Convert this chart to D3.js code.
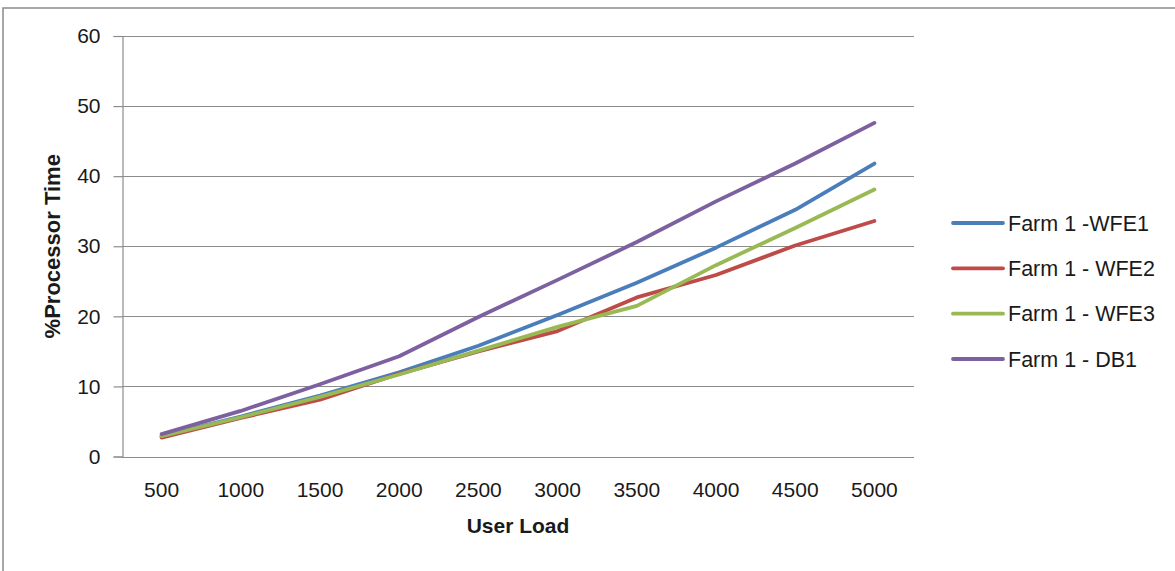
<!DOCTYPE html>
<html>
<head>
<meta charset="utf-8">
<script src="https://cdn.jsdelivr.net/npm/d3@7"></script>
<style>
  html, body { margin: 0; padding: 0; background: #fff; }
  svg { display: block; }
  text { font-family: "Liberation Sans", "Open Sans", sans-serif; fill: #1a1a1a; }
</style>
</head>
<body>
<svg id="chart" width="1175" height="571"></svg>
<script>
const categories = ["500", "1000", "1500", "2000", "2500", "3000", "3500", "4000", "4500", "5000"];
const seriesNames = ["Farm 1 -WFE1", "Farm 1 - WFE2", "Farm 1 - WFE3", "Farm 1 - DB1"];
const wfe1 = [2.9, 5.7, 8.7, 12.0, 15.8, 20.2, 24.8, 29.8, 35.2, 41.8];
const wfe2 = [2.7, 5.5, 8.1, 11.8, 15.0, 17.9, 22.7, 25.9, 30.1, 33.6];
const wfe3 = [2.9, 5.6, 8.5, 11.7, 15.1, 18.5, 21.5, 27.3, 32.6, 38.1];
const db1  = [3.2, 6.5, 10.3, 14.3, 19.9, 25.2, 30.6, 36.4, 41.8, 47.6];
const yTicks = [0, 10, 20, 30, 40, 50, 60];
const colors = ["#4a7ebb", "#be4b48", "#98b954", "#7d60a0"];

const seriesValues = [wfe1, wfe2, wfe3, db1];

const svg = d3.select("#chart");

// outer chart border
svg.append("rect")
  .attr("x", 3).attr("y", 8).attr("width", 1200).attr("height", 600)
  .attr("fill", "#fff").attr("stroke", "#8a8a8a").attr("stroke-width", 1.5);

const plotL = 122, plotR = 914, plotT = 36, plotB = 456.5;

const x = d3.scaleBand().domain(categories).range([plotL, plotR]).padding(0);
const y = d3.scaleLinear().domain([0, 60]).range([plotB, plotT]);

// gridlines
svg.append("g").selectAll("line").data(yTicks).join("line")
  .attr("x1", plotL).attr("x2", plotR)
  .attr("y1", d => Math.round(y(d)) + 0.5).attr("y2", d => Math.round(y(d)) + 0.5)
  .attr("stroke", "#8c8c8c").attr("stroke-width", 1.2);

// y axis
const yAxis = d3.axisLeft(y).tickValues(yTicks).tickSize(9).tickPadding(13).tickFormat(d3.format("d"));
const gy = svg.append("g").attr("transform", `translate(${plotL + 0.5},0)`).call(yAxis);
gy.select(".domain").attr("stroke", "#8c8c8c").attr("stroke-width", 1.2);
gy.selectAll(".tick line").attr("stroke", "#8c8c8c").attr("stroke-width", 1.2);
gy.selectAll(".tick text").attr("font-size", 21).attr("fill", "#1a1a1a")
  .style("font-family", "'Liberation Sans', sans-serif");

// x axis (labels only)
const xAxis = d3.axisBottom(x).tickSize(0).tickPadding(26);
const gx = svg.append("g").attr("transform", `translate(0,${plotB})`).call(xAxis);
gx.select(".domain").remove();
gx.selectAll(".tick text").attr("font-size", 21).attr("fill", "#1a1a1a")
  .style("font-family", "'Liberation Sans', sans-serif");

// lines
const line = d3.line()
  .x((d, i) => x(categories[i]) + x.bandwidth() / 2)
  .y(d => y(d));

svg.append("g").selectAll("path").data(seriesValues).join("path")
  .attr("d", d => line(d))
  .attr("fill", "none")
  .attr("stroke", (d, i) => colors[i])
  .attr("stroke-width", 3.8)
  .attr("stroke-linejoin", "round")
  .attr("stroke-linecap", "round");

// axis titles
svg.append("text")
  .attr("x", (plotL + plotR) / 2).attr("y", 533)
  .attr("text-anchor", "middle").attr("font-size", 21).attr("font-weight", "bold")
  .text("User Load");

svg.append("text")
  .attr("transform", `translate(60,${(plotT + plotB) / 2}) rotate(-90)`)
  .attr("text-anchor", "middle").attr("font-size", 22).attr("font-weight", "bold")
  .text("%Processor Time");

// legend
const legendY = d3.scalePoint().domain(seriesNames).range([223, 359]);
const lg = svg.append("g").selectAll("g").data(seriesNames).join("g")
  .attr("transform", d => `translate(953,${legendY(d)})`);
lg.append("line")
  .attr("x1", 0).attr("x2", 50).attr("y1", 0).attr("y2", 0)
  .attr("stroke", (d, i) => colors[i]).attr("stroke-width", 3.8).attr("stroke-linecap", "round");
lg.append("text")
  .attr("x", 55).attr("y", 0).attr("dy", "0.35em")
  .attr("font-size", 21.5)
  .text(d => d);
</script>
</body>
</html>
